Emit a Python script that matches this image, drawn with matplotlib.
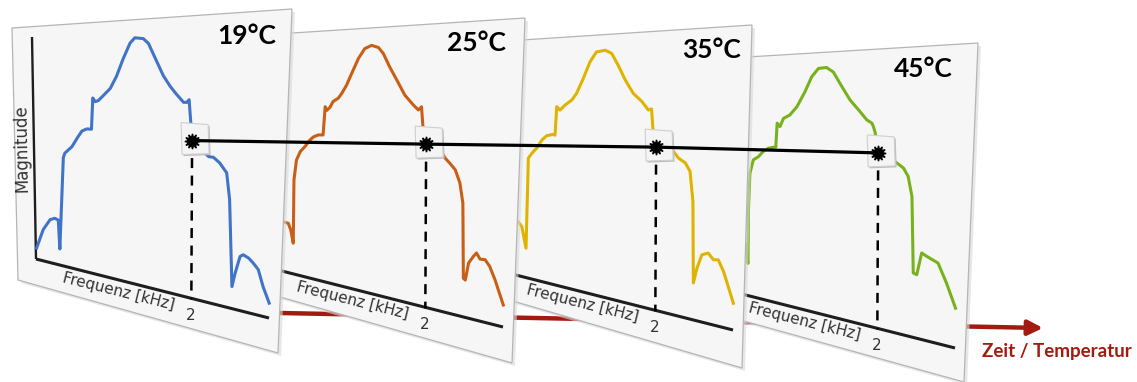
import numpy as np
import matplotlib.pyplot as plt
from matplotlib.patches import Polygon

# --- data: spectra (frequency in kHz, magnitude 0..1) ---
temps = ['19°C', '25°C', '35°C', '45°C']
colors = ['#4173c6', '#c95f16', '#dfb400', '#77b21c']

freq_19 = [0.01, 0.10, 0.19, 0.25, 0.295, 0.31, 0.37, 0.39, 0.48, 0.56, 0.61, 0.67, 0.73, 0.75, 0.78, 0.82,
           0.88, 0.97, 1.05, 1.135, 1.22, 1.28, 1.385, 1.45, 1.53, 1.635, 1.72, 1.80, 1.89, 1.93, 1.96, 2.00,
           2.21, 2.27, 2.35, 2.44, 2.48, 2.52, 2.56, 2.62, 2.66, 2.73, 2.79, 2.855, 2.92, 3.00]
mag_19 = [0.05, 0.14, 0.19, 0.20, 0.195, 0.07, 0.47, 0.49, 0.52, 0.565, 0.59, 0.60, 0.60, 0.73, 0.715, 0.72,
          0.74, 0.77, 0.82, 0.89, 0.95, 0.97, 0.965, 0.945, 0.89, 0.82, 0.78, 0.75, 0.72, 0.72, 0.73, 0.58,
          0.526, 0.525, 0.507, 0.474, 0.381, 0.077, 0.127, 0.188, 0.196, 0.188, 0.174, 0.155, 0.10, 0.05]

freq_25 = [0.01, 0.10, 0.18, 0.245, 0.275, 0.305, 0.325, 0.36, 0.41, 0.47, 0.535, 0.58, 0.64, 0.70, 0.73,
           0.75, 0.79, 0.83, 0.895, 0.94, 1.00, 1.065, 1.15, 1.23, 1.315, 1.40, 1.46, 1.54, 1.63, 1.73,
           1.835, 1.90, 1.94, 1.96, 2.00, 2.175, 2.24, 2.30, 2.37, 2.43, 2.47, 2.485, 2.51, 2.55, 2.61,
           2.65, 2.695, 2.76, 2.82, 2.89, 3.00]
mag_25 = [0.06, 0.15, 0.22, 0.217, 0.19, 0.134, 0.41, 0.498, 0.536, 0.559, 0.589, 0.603, 0.612, 0.613, 0.731,
          0.716, 0.729, 0.753, 0.767, 0.787, 0.82, 0.867, 0.926, 0.964, 0.975, 0.965, 0.941, 0.888, 0.837, 0.78,
          0.744, 0.725, 0.737, 0.658, 0.60, 0.583, 0.554, 0.537, 0.515, 0.47, 0.40, 0.136, 0.131, 0.193, 0.219,
          0.233, 0.214, 0.215, 0.195, 0.153, 0.074]

freq_35 = [0.01, 0.10, 0.19, 0.245, 0.29, 0.34, 0.385, 0.43, 0.49, 0.56, 0.62, 0.70, 0.725, 0.75, 0.79, 0.855,
           0.94, 1.00, 1.085, 1.17, 1.25, 1.36, 1.44, 1.52, 1.61, 1.71, 1.82, 1.90, 1.94, 1.96, 2.00,
           2.22, 2.28, 2.37, 2.43, 2.47, 2.485, 2.53, 2.59, 2.67, 2.74, 2.80, 2.87, 3.00]
mag_35 = [0.07, 0.16, 0.23, 0.237, 0.218, 0.128, 0.52, 0.542, 0.565, 0.602, 0.621, 0.628, 0.625, 0.744, 0.73,
          0.751, 0.772, 0.799, 0.859, 0.924, 0.962, 0.967, 0.953, 0.907, 0.849, 0.798, 0.767, 0.736, 0.74, 0.66,
          0.60, 0.588, 0.566, 0.55, 0.521, 0.417, 0.13, 0.185, 0.234, 0.244, 0.224, 0.227, 0.19, 0.09]

freq_45 = [0.01, 0.10, 0.19, 0.27, 0.31, 0.34, 0.355, 0.38, 0.425, 0.49, 0.55, 0.615, 0.68, 0.71, 0.73, 0.765,
           0.81, 0.89, 0.98, 1.08, 1.165, 1.25, 1.35, 1.435, 1.52, 1.645, 1.77, 1.855, 1.92, 1.94, 1.96, 2.00,
           2.21, 2.32, 2.38, 2.43, 2.455, 2.50, 2.56, 2.625, 2.77, 2.88, 3.00]
mag_45 = [0.08, 0.17, 0.24, 0.25, 0.22, 0.14, 0.372, 0.532, 0.591, 0.606, 0.629, 0.644, 0.649, 0.65, 0.75, 0.736,
          0.77, 0.784, 0.818, 0.877, 0.936, 0.968, 0.97, 0.951, 0.905, 0.841, 0.797, 0.766, 0.754, 0.74, 0.72, 0.645,
          0.617, 0.595, 0.566, 0.496, 0.227, 0.223, 0.302, 0.293, 0.276, 0.213, 0.134]

freqs = [freq_19, freq_25, freq_35, freq_45]
mags = [mag_19, mag_25, mag_35, mag_45]
f_max = 3.0
f_mark = 2.0

# --- layout (pixel coordinates of the tilted panels) ---
W, H = 1137, 382
panel_corners = [
    [(12, 28), (292, 9), (278, 353), (18, 280)],
    [(246, 36), (525, 18), (512, 363), (252, 289)],
    [(476, 43), (752, 25), (742, 368), (482, 292)],
    [(698, 60), (978, 43), (964, 382), (704, 310)],
]
shifts = [(0, 0), (234, 9), (464, 12), (686, 30)]
# plot frame of first panel: origin, x-end, y-top, far corner
frame = np.array([(36, 259), (269, 318), (32, 37), (273, 21)], float)
label_pos = [(247, 36), (476, 43), (711, 50), (923, 69)]


def to_px(f, m, k):
    o, x, y, xy = frame + np.array(shifts[k], float)
    u = np.asarray(f, float) / f_max
    v = np.asarray(m, float)
    uu, vv = u[..., None], v[..., None]
    p = (1 - uu) * (1 - vv) * o + uu * (1 - vv) * x + (1 - uu) * vv * y + uu * vv * xy
    return p[..., 0], p[..., 1]


fig = plt.figure(figsize=(W / 100, H / 100), dpi=100)
ax = fig.add_axes([0, 0, 1, 1])
ax.set_xlim(0, W)
ax.set_ylim(H, 0)
ax.axis('off')

# time / temperature arrow behind the panels
ax.annotate('', xy=(1043, 328), xytext=(280, 313),
            arrowprops=dict(arrowstyle='-|>', lw=3.2, color='#a31b10', mutation_scale=22,
                            shrinkA=0, shrinkB=0), zorder=1)
ax.text(1057, 352, 'Zeit / Temperatur', family='Lato', weight='bold', fontsize=13.5,
        color='#a31b10', ha='center', va='center')

box = np.array([(-11, -18), (16, -16), (17, 13), (-10, 14)], float)
marks = []
for k in range(4):
    z = 10 * (4 - k)
    pc = np.array(panel_corners[k], float)
    ax.add_patch(Polygon(pc + [3, 3], closed=True, fc='#d8d8d8', ec='none', alpha=0.6, zorder=z - 1))
    ax.add_patch(Polygon(pc, closed=True, fc='#f6f6f6', ec='#b5b5b5', lw=0.9, zorder=z))

    # axes
    ox, oy = to_px(0, 0, k)
    xx, xy_ = to_px(f_max, 0, k)
    yx, yy = to_px(0, 1, k)
    ax.plot([ox, xx], [oy, xy_], color='#1e1e1e', lw=2.2, solid_capstyle='butt', zorder=z + 1)
    ax.plot([yx, ox], [yy, oy], color='#1e1e1e', lw=1.7, solid_capstyle='butt', zorder=z + 1)
    tx, ty = to_px(f_mark, 0, k)
    ax.text(tx - 1, ty + 17, '2', fontsize=11, color='#333333', ha='center', va='center', zorder=z + 1)
    lx, ly = to_px(1.06, 0, k)
    ax.text(lx, ly + 12, 'Frequenz [kHz]', fontsize=11, color='#333333', rotation=-14,
            rotation_mode='anchor', ha='center', va='center', zorder=z + 1)
    mx0, my0 = to_px(0, 0.5, k)
    ax.text(mx0 - 12, my0, 'Magnitude', fontsize=12, color='#333333', rotation=91,
            ha='center', va='center', zorder=z + 1)

    # spectrum
    px, py = to_px(freqs[k], mags[k], k)
    ax.plot(px, py, color=colors[k], lw=2.2, solid_joinstyle='round', zorder=z + 2)

    # marked value at 2 kHz
    m2 = np.interp(f_mark, freqs[k], mags[k])
    mx, my = to_px(f_mark, m2, k)
    mx, my = float(mx), float(my)
    ax.plot([mx, tx], [my, ty + 1], color='black', lw=1.8, dashes=(4, 3), zorder=z + 3)
    ax.add_patch(Polygon(box + [mx + 1.5, my + 1.5], closed=True, fc='#bdbdbd', ec='none', zorder=z + 4))
    ax.add_patch(Polygon(box + [mx, my], closed=True, fc='#f4f4f4', ec='#cfcfcf', lw=0.8, zorder=z + 4))
    marks.append((mx, my))

    ax.text(label_pos[k][0], label_pos[k][1], temps[k], family='Lato', weight='bold', fontsize=19,
            color='black', ha='center', va='center', zorder=z + 1)

marks = np.array(marks)
ax.plot(marks[:, 0], marks[:, 1], color='black', lw=2.3, zorder=100)
ax.plot(marks[:, 0], marks[:, 1], ls='none', marker=(12, 1, 0), ms=11, color='black', zorder=101)

fig.savefig('out.png', dpi=100)
